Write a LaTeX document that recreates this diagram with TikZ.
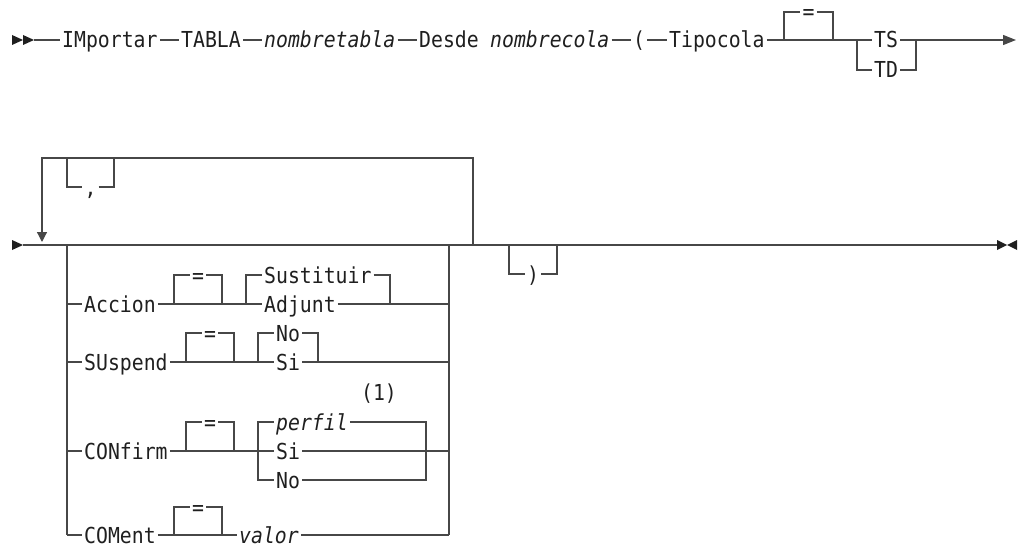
\documentclass[tikz,border=0pt]{standalone}
\usepackage{fontspec}
\usepackage{tikz}
\usetikzlibrary{arrows.meta, positioning}
\newfontfamily\rrfont{DejaVu Sans Mono}[FakeStretch=0.9, ItalicFont={DejaVu Sans Mono Oblique}]

\begin{document}
\begin{tikzpicture}[
    x=1pt, y=-1pt,
    rail/.style={draw=black!72, line width=1.2pt},
    kw/.style={
        font=\rrfont\fontsize{22}{24}\selectfont,
        text=black!88,
        anchor=west,
        inner xsep=2pt,
        inner ysep=0pt,
        text height=16pt,
        text depth=0pt
    },
    var/.style={kw, font=\rrfont\itshape\fontsize{22}{24}\selectfont},
    eqsign/.style={kw, anchor=center},
    tipmark/.style={fill=black!88}
]
\useasboundingbox (0,0) rectangle (1019,548);

% first line
\fill[tipmark] (12,35) -- (23,40) -- (12,45) -- cycle;
\fill[tipmark] (23,35) -- (34,40) -- (23,45) -- cycle;
\coordinate (start1) at (34,40);

\node[kw] (imp) at (60,40) {IMportar};
\node[kw] (tabla) at (179,40) {TABLA};
\node[var] (ntabla) at (262,40) {nombretabla};
\node[kw] (desde) at (417,40) {Desde};
\node[var] (ncola) at (488,40) {nombrecola};
\node[kw] (lpar) at (631,40) {(};
\node[kw] (tipo) at (667,40) {Tipocola};

\coordinate (eqAl) at (784,40);
\coordinate (eqAr) at (833,40);
\node[eqsign] (eqA) at (808.5,12) {=};

\coordinate (tsl) at (857,40);
\coordinate (tsr) at (916,40);
\node[kw] (ts) at (872,40) {TS};
\node[kw] (td) at (872,70) {TD};
\coordinate (end1) at (1016,40);

\draw[rail] (start1) -- (imp) -- (tabla) -- (ntabla) -- (desde);
\draw[rail] (ncola) -- (lpar) -- (tipo) -- (eqAl) -- (eqAr) -- (tsl) -- (ts) -- (tsr);
\draw[rail] (eqAl) |- (eqA) -| (eqAr);
\draw[rail] (tsl) |- (td) -| (tsr);
\draw[rail, -{Triangle[length=13pt, width=10pt]}] (tsr) -- (end1);

% second line
\fill[tipmark] (12,240) -- (23,245) -- (12,250) -- cycle;
\coordinate (start2) at (23,245);
\coordinate (end2) at (997,245);
\draw[rail] (start2) -- (end2);
\fill[tipmark] (997,240) -- (1007,245) -- (997,250) -- cycle;
\fill[tipmark] (1017,240) -- (1007,245) -- (1017,250) -- cycle;

% repeat loop
\coordinate (loopin) at (42,242);
\coordinate (looptl) at (42,158);
\coordinate (looptr) at (473,158);
\coordinate (loopr) at (473,245);
\draw[rail, -{Triangle[length=10pt, width=10pt]}] (loopr) -- (looptr) -- (looptl) -- (loopin);

\coordinate (cml) at (67,158);
\coordinate (cmr) at (114,158);
\node[eqsign] (comma) at (90.5,187) {,};
\draw[rail] (cml) |- (comma) -| (cmr);

% choice block
\coordinate (chl) at (67,245);
\coordinate (chr) at (449,245);
\coordinate (chbl) at (67,535);
\coordinate (chbr) at (449,535);
\draw[rail] (chl) -- (chbl);
\draw[rail] (chr) -- (chbr);

% Accion
\node[kw] (accion) at (82,304) {Accion};
\coordinate (eqBl) at (174,304);
\coordinate (eqBr) at (222,304);
\node[eqsign] (eqB) at (198,275) {=};
\coordinate (susl) at (246,304);
\coordinate (susr) at (390,304);
\node[kw] (sust) at (262,275) {Sustituir};
\node[kw] (adj) at (262,304) {Adjunt};

\draw[rail] (chl |- accion) -- (accion) -- (eqBl) -- (eqBr) -- (susl) -- (adj) -- (chr |- adj);
\draw[rail] (eqBl) |- (eqB) -| (eqBr);
\draw[rail] (susl) |- (sust) -| (susr);

% SUspend
\node[kw] (susp) at (82,362) {SUspend};
\coordinate (eqCl) at (186,362);
\coordinate (eqCr) at (234,362);
\node[eqsign] (eqC) at (210,333) {=};
\coordinate (nol) at (258,362);
\coordinate (nor) at (318,362);
\node[kw] (noA) at (274,333) {No};
\node[kw] (siA) at (274,362) {Si};

\draw[rail] (chl |- susp) -- (susp) -- (eqCl) -- (eqCr) -- (nol) -- (siA) -- (chr |- siA);
\draw[rail] (eqCl) |- (eqC) -| (eqCr);
\draw[rail] (nol) |- (noA) -| (nor);

% CONfirm
\node[kw, anchor=center] (note) at (379,392) {(1)};
\node[kw] (conf) at (82,451) {CONfirm};
\coordinate (eqDl) at (186,451);
\coordinate (eqDr) at (234,451);
\node[eqsign] (eqD) at (210,422) {=};
\coordinate (perl) at (258,451);
\coordinate (perr) at (426,451);
\node[var] (perfil) at (274,422) {perfil};
\node[kw] (siB) at (274,451) {Si};
\node[kw] (noB) at (274,480) {No};

\draw[rail] (chl |- conf) -- (conf) -- (eqDl) -- (eqDr) -- (perl) -- (siB) -- (chr |- siB);
\draw[rail] (eqDl) |- (eqD) -| (eqDr);
\draw[rail] (perl) |- (perfil) -| (perr);
\draw[rail] (perl) |- (noB) -| (perr);

% COMent
\node[kw] (coment) at (82,535) {COMent};
\coordinate (eqEl) at (174,535);
\coordinate (eqEr) at (222,535);
\node[eqsign] (eqE) at (198,507) {=};
\node[var] (valor) at (237,535) {valor};

\draw[rail] (chbl) -- (coment) -- (eqEl) -- (eqEr) -- (valor) -- (chbr);
\draw[rail] (eqEl) |- (eqE) -| (eqEr);

% closing parenthesis
\coordinate (rpl) at (509,245);
\coordinate (rpr) at (557,245);
\node[eqsign] (rpar) at (533,274) {)};
\draw[rail] (rpl) |- (rpar) -| (rpr);

\end{tikzpicture}
\end{document}
